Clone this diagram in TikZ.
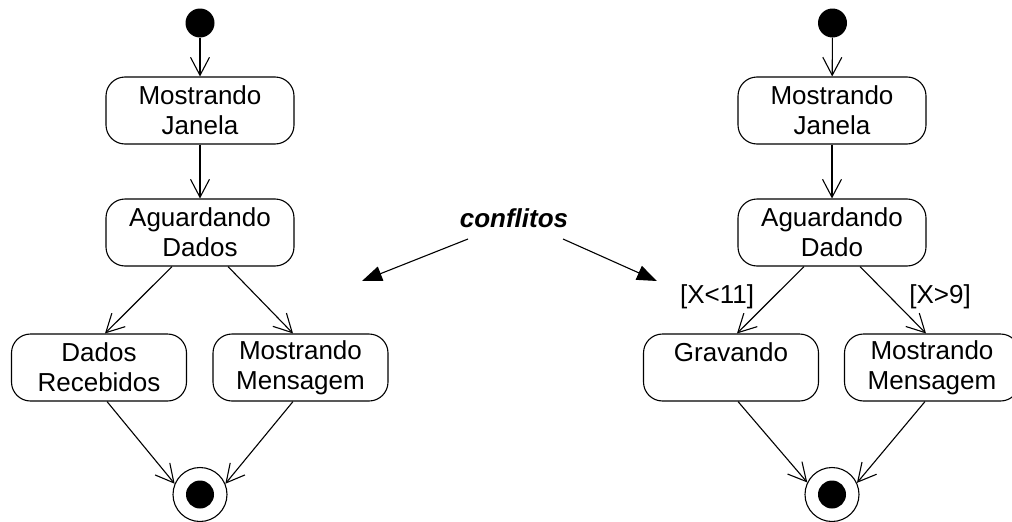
\documentclass[tikz,border=0pt]{standalone}
\usepackage{fontspec}
\setmainfont{Liberation Sans}
\usetikzlibrary{arrows.meta}
\begin{document}
\begin{tikzpicture}[x=1pt,y=-1pt,
  every node/.style={font=\fontsize{26}{30}\selectfont},
  state/.style={draw,line width=1.1pt,rounded corners=19pt,minimum width=188pt,minimum height=67pt,inner sep=0pt,align=center},
  smallstate/.style={state,minimum width=175pt},
  startdot/.style={circle,fill=black,minimum size=29pt,inner sep=0pt},
  enddot/.style={circle,draw,line width=1.1pt,minimum size=54pt,inner sep=0pt,
     path picture={\fill (path picture bounding box.center) circle (14pt);}},
  trans/.style={line width=1.1pt,-{Straight Barb[length=18pt,width=19pt,line width=1.1pt]}},
  confl/.style={line width=1.1pt,-{Triangle[length=20pt,width=15pt]}},
  guard/.style={inner sep=0pt}]
\useasboundingbox (0,0) rectangle (1012,522);
% left diagram
\node[startdot] (s1) at (200,23) {};
\node[state] (mj1) at (200,110.5) {Mostrando\\Janela};
\node[state] (ad1) at (200,232.5) {Aguardando\\Dados};
\node[smallstate] (dr) at (99,367.5) {Dados\\Recebidos};
\node[smallstate] (mm1) at (300.5,367.5) {Mostrando\\Mensagem};
\node[enddot] (f1) at (200,494.5) {};
\draw[trans] (s1) -- (mj1);
\draw[trans] (mj1) -- (ad1);
\draw[trans] ([xshift=-28pt]ad1.south) -- ([xshift=6pt]dr.north);
\draw[trans] ([xshift=28pt]ad1.south) -- ([xshift=-7.5pt]mm1.north);
\draw[trans] ([xshift=8pt]dr.south) -- (f1.157);
\draw[trans] ([xshift=-7.5pt]mm1.south) -- (f1.23);
% conflitos
\node[font=\fontsize{26}{30}\selectfont\bfseries\itshape] (cf) at (514,218) {conflitos};
\coordinate (cl) at (468,239);
\coordinate (cr) at (563,239);
\coordinate (tl) at (362,281);
\coordinate (tr) at (657,281);
\draw[confl] (cl) -- (tl);
\draw[confl] (cr) -- (tr);
% right diagram
\node[startdot] (s2) at (832.5,23) {};
\node[state] (mj2) at (832,110.5) {Mostrando\\Janela};
\node[state] (ad2) at (832,232.5) {Aguardando\\Dado};
\node[smallstate] (gr) at (731,367.5) {Gravando\\\mbox{}};
\node[smallstate] (mm2) at (932,367.5) {Mostrando\\Mensagem};
\node[enddot] (f2) at (832,494.5) {};
\draw[trans] (s2) -- (mj2);
\draw[trans] (mj2) -- (ad2);
\draw[trans] ([xshift=-28pt]ad2.south) -- ([xshift=6pt]gr.north);
\draw[trans] ([xshift=28pt]ad2.south) -- ([xshift=-6pt]mm2.north);
\draw[trans] ([xshift=7pt]gr.south) -- (f2.154);
\draw[trans] ([xshift=-7pt]mm2.south) -- (f2.25);
\node[guard] (g1) at (717,297) {[X<11]};
\node[guard] (g2) at (940,297) {[X>9]};
\end{tikzpicture}
\end{document}
